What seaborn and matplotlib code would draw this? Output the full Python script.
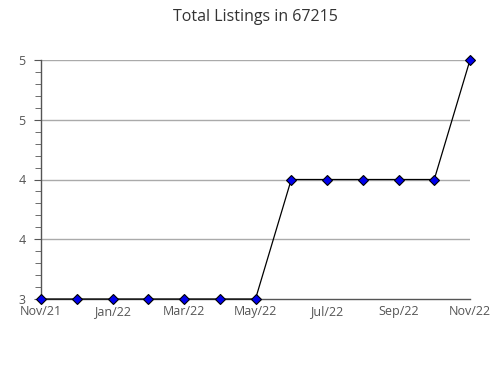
import matplotlib
matplotlib.use("Agg")
import matplotlib.pyplot as plt
import seaborn as sns
import pandas as pd
from matplotlib.ticker import MultipleLocator

months = ["Nov/21", "Dec/21", "Jan/22", "Feb/22", "Mar/22", "Apr/22", "May/22",
          "Jun/22", "Jul/22", "Aug/22", "Sep/22", "Oct/22", "Nov/22"]
listings = [3, 3, 3, 3, 3, 3, 3, 4, 4, 4, 4, 4, 5]
y_ticks = [3, 3.5, 4, 4.5, 5]
y_labels = ["3", "4", "4", "5", "5"]
title = "Total Listings in 67215"

sns.set_style("white")
plt.rcParams['font.family'] = ['Open Sans', 'DejaVu Sans']

df = pd.DataFrame({"idx": range(len(months)), "value": listings})

fig = plt.figure(figsize=(4.9, 3.8), dpi=100)
ax = fig.add_axes([41/490, 1-299/380, (470-41)/490, (299-60)/380])

for y in y_ticks[1:]:
    ax.axhline(y, color="#aaaaaa", lw=1, zorder=0)

sns.lineplot(data=df, x="idx", y="value", ax=ax, color="black", lw=0.9,
             marker="D", markersize=5, markerfacecolor="#0000ee",
             markeredgecolor="black", markeredgewidth=0.8, clip_on=False, zorder=3)

ax.set_xlim(0, len(months)-1)
ax.set_ylim(3, 5)
ax.set_xticks(range(len(months)))
ax.set_xticklabels([m if i % 2 == 0 else "" for i, m in enumerate(months)])
ax.set_yticks(y_ticks)
ax.set_yticklabels(y_labels)
ax.yaxis.set_minor_locator(MultipleLocator(0.1))
ax.set_xlabel("")
ax.set_ylabel("")
ax.set_title(title, fontsize=11.5, color="#333333", pad=28)

for s in ["top", "right"]:
    ax.spines[s].set_visible(False)
for s in ["left", "bottom"]:
    ax.spines[s].set_color("#555555")
    ax.spines[s].set_linewidth(1)

ax.tick_params(axis="x", direction="in", length=5, color="#555555", labelsize=9,
               labelcolor="#555555", pad=4.5)
ax.tick_params(axis="y", which="major", direction="out", length=5, color="#555555",
               labelsize=9, labelcolor="#555555", pad=6, left=True)
ax.tick_params(axis="y", which="minor", direction="out", length=4, color="#555555", left=True)

fig.savefig("out.png", dpi=100)
